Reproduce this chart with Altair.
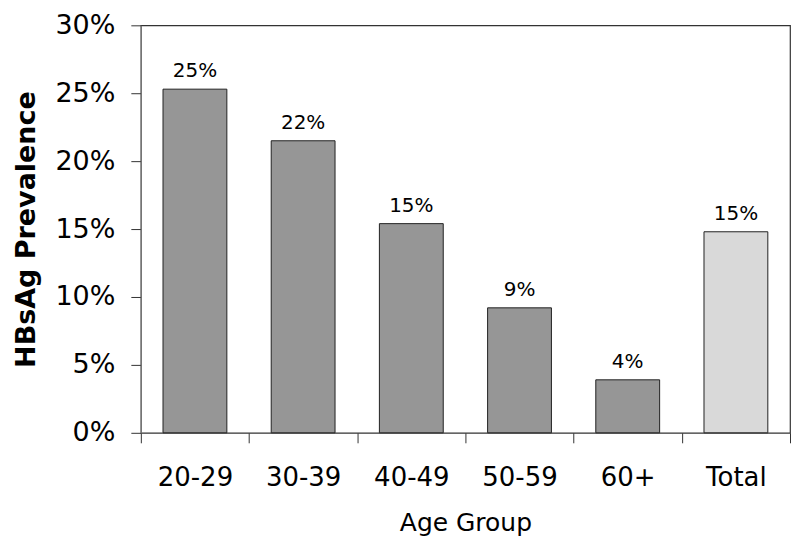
import altair as alt
import pandas as pd

groups = ["20-29", "30-39", "40-49", "50-59", "60+", "Total"]
values = [0.253, 0.215, 0.154, 0.092, 0.039, 0.148]
labels = ["25%", "22%", "15%", "9%", "4%", "15%"]
kinds = ["age", "age", "age", "age", "age", "total"]

df = pd.DataFrame({"group": groups, "value": values, "label": labels, "kind": kinds})

FONT = "DejaVu Sans"

x = alt.X("group:N", sort=groups, title="Age Group",
          scale=alt.Scale(paddingInner=0, paddingOuter=0),
          axis=alt.Axis(labelAngle=0, labelFontSize=26, labelFont=FONT, labelColor="black",
                        labelPadding=22, tickBand="extent", tickSize=10, tickColor="#333",
                        domain=False, titleFontSize=25, titleFont=FONT, titleFontWeight="normal",
                        titleColor="black", titlePadding=20))
y = alt.Y("value:Q", title="HBsAg Prevalence",
          scale=alt.Scale(domain=[0, 0.30]),
          axis=alt.Axis(format=".0%", values=[0, 0.05, 0.10, 0.15, 0.20, 0.25, 0.30],
                        labelFontSize=27, labelFont=FONT, labelColor="black", labelPadding=16,
                        tickSize=10, tickColor="#333", grid=False, domainColor="#777",
                        titleFontSize=27, titleFont=FONT, titleFontWeight="bold",
                        titleColor="black", titlePadding=14))

bars = alt.Chart(df).mark_bar(stroke="#222", strokeWidth=1, width={"band": 0.59}).encode(
    x=x, y=y,
    color=alt.Color("kind:N", scale=alt.Scale(domain=["age", "total"], range=["#969696", "#d9d9d9"]),
                    legend=None),
)

text = alt.Chart(df).mark_text(baseline="bottom", dy=-8, fontSize=20, font=FONT, color="black").encode(
    x=alt.X("group:N", sort=groups), y="value:Q", text="label:N"
)

chart = (bars + text).properties(
    width=650, height=408,
    autosize=alt.AutoSizeParams(type="none"),
    padding={"left": 133, "top": 17, "right": 2, "bottom": 110},
).configure(background="white").configure_view(stroke="#333", strokeWidth=1.2)

chart.save("out.html", embed_options={"renderer": "svg", "actions": False})
